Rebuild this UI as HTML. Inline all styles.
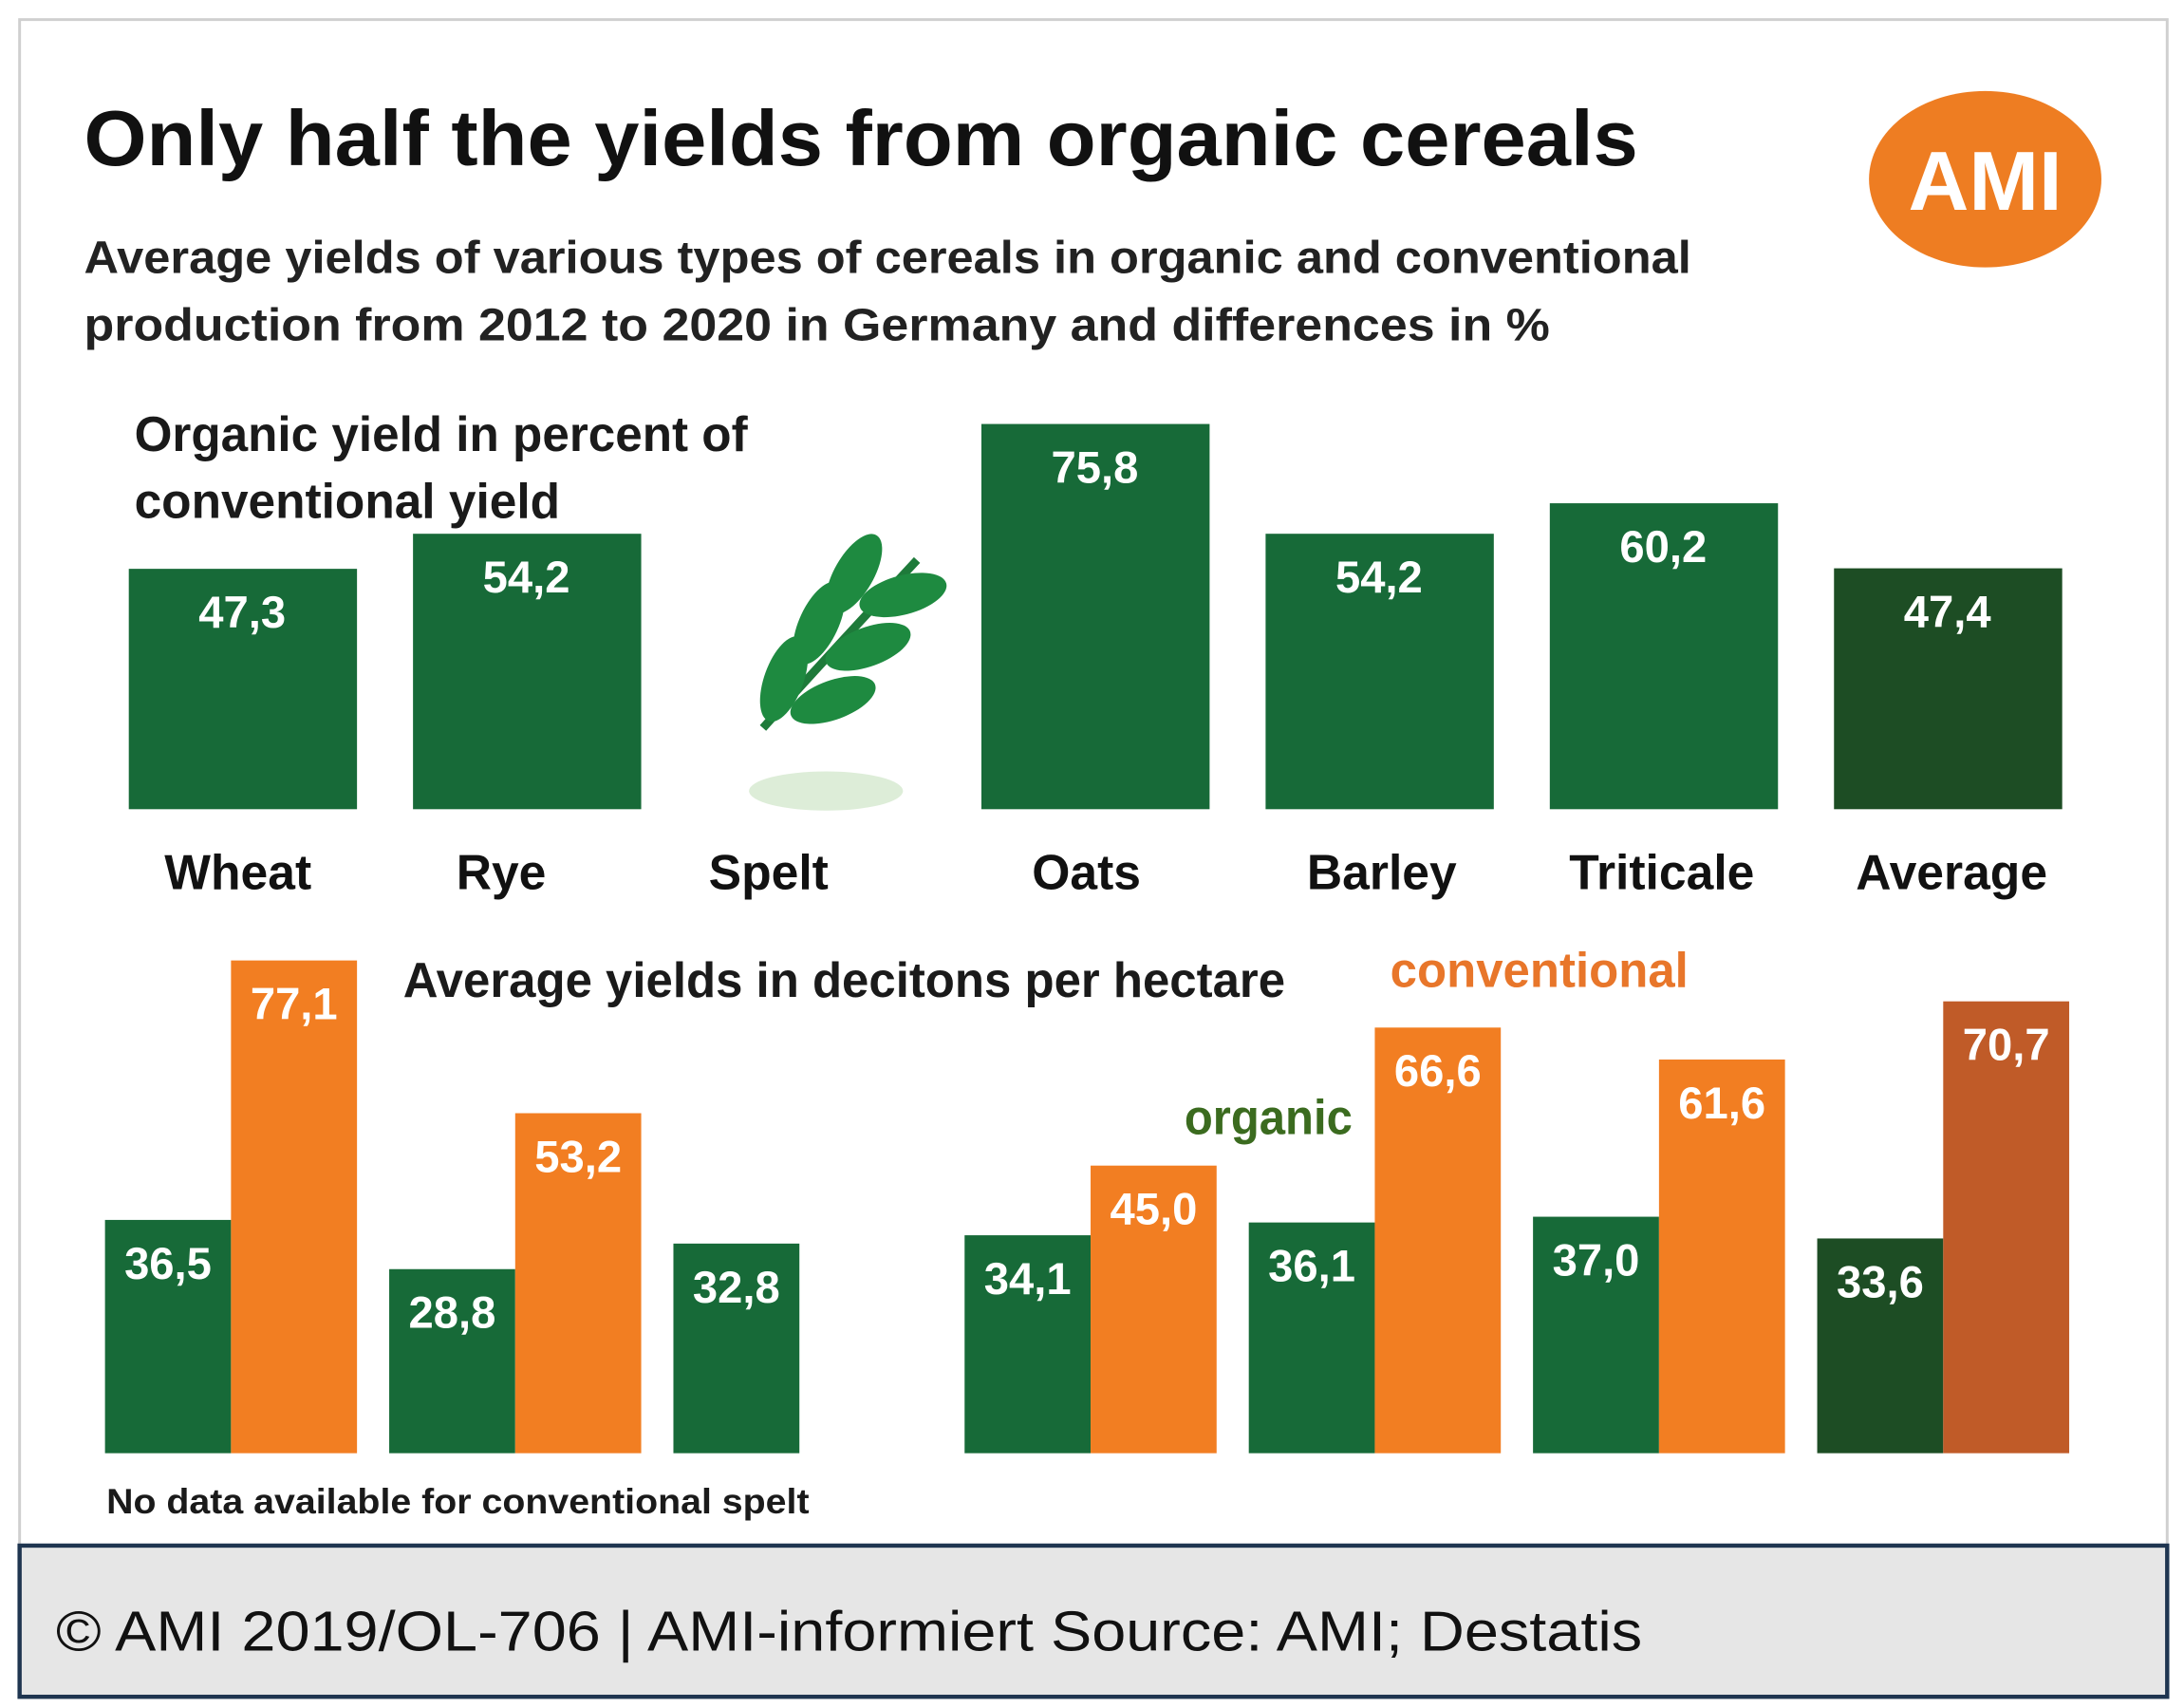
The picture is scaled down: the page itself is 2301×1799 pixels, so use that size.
<!DOCTYPE html>
<html><head><meta charset="utf-8"><style>
html,body{margin:0;padding:0;background:#fff;}
svg{display:block;}
text{font-family:"Liberation Sans",sans-serif;}
</style></head><body>
<svg id="chart" width="2301" height="1799" viewBox="0 0 1560 1220" preserveAspectRatio="none" xmlns="http://www.w3.org/2000/svg">
<rect x="0" y="0" width="1560" height="1220" fill="#fff"/>
<rect x="14" y="14" width="1534" height="1198" fill="none" stroke="#cfcfcf" stroke-width="2"/>
<text x="60" y="118" font-size="56" font-weight="bold" fill="#111" textLength="1110" lengthAdjust="spacingAndGlyphs">Only half the yields from organic cereals</text>
<text x="60" y="195" font-size="33" font-weight="bold" fill="#222" textLength="1148" lengthAdjust="spacingAndGlyphs">Average yields of various types of cereals in organic and conventional</text>
<text x="60" y="243" font-size="33" font-weight="bold" fill="#222" textLength="1047" lengthAdjust="spacingAndGlyphs">production from 2012 to 2020 in Germany and differences in %</text>
<g>
<ellipse cx="1418" cy="128" rx="83" ry="63" fill="#ee7d22"/>
<text x="1418" y="150" text-anchor="middle" font-size="60" font-weight="bold" fill="#fff">AMI</text>
</g>
<text x="96" y="322" font-size="35" font-weight="bold" fill="#1a1a1a" textLength="438" lengthAdjust="spacingAndGlyphs">Organic yield in percent of</text>
<text x="96" y="370" font-size="35" font-weight="bold" fill="#1a1a1a" textLength="304" lengthAdjust="spacingAndGlyphs">conventional yield</text>
<g id="topChart"></g>
<g transform="translate(590,470)">
<path d="M-45,50 Q0,0 65,-70" stroke="#1e7a3a" stroke-width="6" fill="none"/>
<ellipse cx="-30" cy="15" rx="14" ry="32" fill="#1e8a40" transform="rotate(20 -30 15)"/>
<ellipse cx="5" cy="30" rx="14" ry="32" fill="#1e8a40" transform="rotate(70 5 30)"/>
<ellipse cx="-5" cy="-25" rx="14" ry="32" fill="#1e8a40" transform="rotate(25 -5 -25)"/>
<ellipse cx="30" cy="-8" rx="14" ry="32" fill="#1e8a40" transform="rotate(70 30 -8)"/>
<ellipse cx="20" cy="-60" rx="14" ry="32" fill="#1e8a40" transform="rotate(30 20 -60)"/>
<ellipse cx="55" cy="-45" rx="14" ry="32" fill="#1e8a40" transform="rotate(75 55 -45)"/>
<ellipse cx="0" cy="95" rx="55" ry="14" fill="#cfe5c8" opacity="0.7"/>
</g>
<text x="288" y="712" font-size="35" font-weight="bold" fill="#1a1a1a" textLength="630" lengthAdjust="spacingAndGlyphs">Average yields in decitons per hectare</text>
<text x="993" y="705" font-size="35" font-weight="bold" fill="#e8762a" textLength="213" lengthAdjust="spacingAndGlyphs">conventional</text>
<text x="846" y="810" font-size="35" font-weight="bold" fill="#3b6b1f" textLength="120" lengthAdjust="spacingAndGlyphs">organic</text>
<g id="bottomChart"></g>
<text x="76" y="1081" font-size="25" font-weight="bold" fill="#1a1a1a" textLength="502" lengthAdjust="spacingAndGlyphs">No data available for conventional spelt</text>
<rect x="14" y="1104" width="1534" height="108" fill="#e6e6e6" stroke="#1f3550" stroke-width="3"/>
<text x="40" y="1179" font-size="40" fill="#111" textLength="1133" lengthAdjust="spacingAndGlyphs">© AMI 2019/OL-706 | AMI-informiert Source: AMI; Destatis</text>
</svg>
<script>
const categories = ["Wheat","Rye","Spelt","Oats","Barley","Triticale","Average"];
const percentValues = [47.3,54.2,null,75.8,54.2,60.2,47.4];
const percentLabels = ["47,3","54,2","","75,8","54,2","60,2","47,4"];
const organicValues = [36.5,28.8,32.8,34.1,36.1,37.0,33.6];
const organicLabels = ["36,5","28,8","32,8","34,1","36,1","37,0","33,6"];
const conventionalValues = [77.1,53.2,null,45.0,66.6,61.6,70.7];
const conventionalLabels = ["77,1","53,2","","45,0","66,6","61,6","70,7"];

(function(){
const NS="http://www.w3.org/2000/svg";
function mk(tag,attrs,parent){const e=document.createElementNS(NS,tag);for(const k in attrs)e.setAttribute(k,attrs[k]);parent.appendChild(e);return e;}
const catX = i => 92 + i*203;
const labelShift = [-3,-18,-30,-6,2,-1,3];
const topBase = 578, topK = 3.63;
const yTop = v => topBase - v*topK;
const botBase = 1038, botK = 4.565;
const yBot = v => botBase - v*botK;

const topG = document.getElementById('topChart');
percentValues.forEach((v,i)=>{
  const x = catX(i);
  if(v!==null){
    const r = mk('rect',{x:x,y:yTop(v),width:163,height:topBase-yTop(v),fill:i===6?'#1d4d24':'#176a38'},topG);
    
    
    const t = mk('text',{x:x+81,y:yTop(v)+42,'text-anchor':'middle','font-size':32,'font-weight':'bold',fill:'#fff'},topG);
    t.textContent = percentLabels[i];
    
    
  }
  const c = mk('text',{x:x+81+labelShift[i],y:635,'text-anchor':'middle','font-size':35,'font-weight':'bold',fill:'#111'},topG);
  c.textContent = categories[i];
  
  
});

const botG = document.getElementById('bottomChart');
const grpX = i => 75 + i*203 + (i>=3?5:0);
organicValues.forEach((v,i)=>{
  const x = grpX(i);
  const r = mk('rect',{x:x,y:yBot(v),width:90,height:botBase-yBot(v),fill:i===6?'#1d4d24':'#176a38'},botG);
  
  
  const t = mk('text',{x:x+45,y:yBot(v)+42,'text-anchor':'middle','font-size':32,'font-weight':'bold',fill:'#fff'},botG);
  t.textContent = organicLabels[i];
  
  
  const cv = conventionalValues[i];
  if(cv!==null){
    const r2 = mk('rect',{x:x+90,y:yBot(cv),width:90,height:botBase-yBot(cv),fill:i===6?'#c05b28':'#f27e22'},botG);
    
    
    const t2 = mk('text',{x:x+135,y:yBot(cv)+42,'text-anchor':'middle','font-size':32,'font-weight':'bold',fill:'#fff'},botG);
    t2.textContent = conventionalLabels[i];
    
    
  }
});
})();
</script>
</body></html>
